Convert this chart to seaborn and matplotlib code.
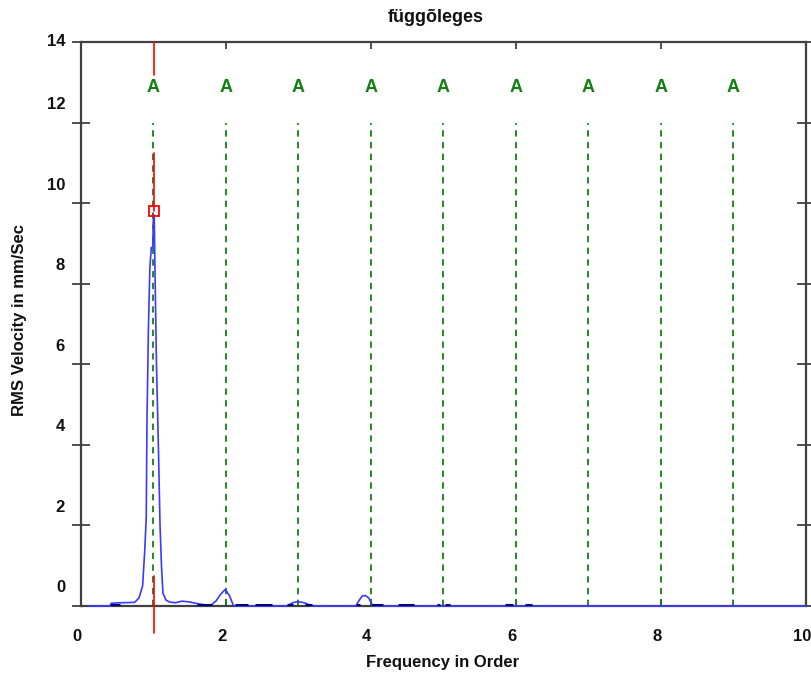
import matplotlib
matplotlib.use("Agg")
import matplotlib.pyplot as plt
import numpy as np
import pandas as pd
import seaborn as sns

# ===== DATA =====
TITLE = "függõleges"
X_LABEL = "Frequency in Order"
Y_LABEL = "RMS Velocity in mm/Sec"

# spectrum (order, rms velocity)
order = [0.11, 0.40, 0.42, 0.54, 0.74, 0.80, 0.85, 0.88, 0.90, 0.91, 0.93, 0.95,
         0.97, 0.99, 1.00, 1.01, 1.02, 1.04, 1.07, 1.09, 1.11, 1.13, 1.17, 1.22,
         1.30, 1.39, 1.50, 1.60, 1.70, 1.80, 1.86, 1.93, 1.99, 2.05, 2.10, 2.12,
         2.84, 2.92, 2.99, 3.08, 3.19, 3.79, 3.84, 3.88, 3.92, 3.97, 4.01, 4.05, 10.0]
velocity = [0.0, 0.0, 0.07, 0.08, 0.09, 0.2, 0.5, 1.4, 2.2, 4.6, 6.9, 8.4,
            8.9, 8.9, 9.7, 9.7, 8.4, 6.1, 3.75, 2.0, 1.0, 0.32, 0.15, 0.1,
            0.08, 0.12, 0.1, 0.06, 0.03, 0.03, 0.12, 0.3, 0.41, 0.25, 0.02, 0.0,
            0.0, 0.08, 0.11, 0.08, 0.0, 0.0, 0.15, 0.25, 0.26, 0.2, 0.05, 0.0, 0.0]

# dark floor segments drawn on the baseline
floor_start = [0.40, 1.60, 2.12, 2.40, 2.84, 3.09, 3.79, 4.01, 4.37, 4.91, 5.02, 5.85, 6.12]
floor_end = [0.54, 1.81, 2.30, 2.63, 2.92, 3.19, 3.85, 4.17, 4.60, 4.95, 5.09, 5.96, 6.22]

# harmonic markers
harmonics = [1, 2, 3, 4, 5, 6, 7, 8, 9]
harmonic_label = "A"
harmonic_label_y = 12.88
harmonic_line_top = 12.0

# cursor
cursor_x = 1.01
cursor_y = 9.8
cursor_segments = [(13.18, 14.0), (9.8, 11.24), (-0.67, 0.74)]

x_ticks = [0, 2, 4, 6, 8, 10]
y_ticks = [0, 2, 4, 6, 8, 10, 12, 14]

# ===== STYLE =====
sns.set_style("white")
plt.rcParams["font.family"] = ["Liberation Sans", "DejaVu Sans"]
plt.rcParams["font.weight"] = "bold"

SPINE = "#404040"
BLUE = "#3a3aff"
GREEN = "#138013"

fig = plt.figure(figsize=(8.12, 6.75), dpi=100)
ax = fig.add_axes([81 / 812, 1 - 606 / 675, 725 / 812, 564 / 675])

df = pd.DataFrame({"order": order, "velocity": velocity})

# harmonic guide lines + labels
ax.vlines(harmonics, 0, harmonic_line_top, colors=GREEN, linestyles=(0, (3.5, 3)),
          linewidth=1.3, zorder=2)
for h in harmonics:
    ax.text(h, harmonic_label_y, harmonic_label, color=GREEN, fontsize=13,
            fontweight="bold", ha="center", va="center")

# spectrum
sns.lineplot(data=df, x="order", y="velocity", color=BLUE, linewidth=1.2,
             ax=ax, zorder=4, clip_on=False)
ax.hlines([0.03] * len(floor_start), floor_start, floor_end, colors="#000080",
          linewidth=2.2, zorder=5)

# cursor
for y0, y1 in cursor_segments:
    ax.plot([cursor_x, cursor_x], [y0, y1], color="red", linewidth=1.2,
            zorder=6, clip_on=False)
ax.vlines(1.0, 8.95, 9.6, colors="orange", linestyles=(0, (2, 2)), linewidth=1.2, zorder=3)
ax.plot([cursor_x], [cursor_y], marker="s", markersize=7, mfc="none", mec="red",
        mew=1.3, zorder=7)

# axes
ax.set_xlim(0, 10)
ax.set_ylim(0, 14)
for s in ax.spines.values():
    s.set_color(SPINE)
    s.set_linewidth(1.6)
    s.set_visible(True)

ax.set_xticks(x_ticks)
ax.set_yticks(y_ticks)
ax.set_xticklabels([])
ax.set_yticklabels([])
ax.tick_params(axis="x", direction="in", length=5, width=1.3, color=SPINE,
               top=True, bottom=True)
ax.tick_params(axis="y", direction="inout", length=12.5, width=1.3, color=SPINE,
               left=True, right=True)

# tick labels (drawn as annotations to mimic the original offsets)
for v in x_ticks:
    ax.annotate(str(v), xy=(v, 0), xycoords=("data", "axes fraction"),
                xytext=(-3, -22), textcoords="offset points", ha="center",
                va="center", fontsize=12, fontweight="bold", color="#111111",
                annotation_clip=False)
for v in y_ticks:
    dy = 0 if v == y_ticks[-1] else 13
    ax.annotate(str(v), xy=(0, v), xycoords=("axes fraction", "data"),
                xytext=(-11.5, dy), textcoords="offset points", ha="right",
                va="center", fontsize=12, fontweight="bold", color="#111111",
                annotation_clip=False)

ax.set_xlabel("")
ax.set_ylabel("")
fig.text(443 / 812, 1 - 663 / 675, X_LABEL, ha="center", va="center",
         fontsize=12, fontweight="bold", color="#111111")
fig.text(20 / 812, 1 - 320 / 675, Y_LABEL, ha="center", va="center",
         rotation=90, fontsize=12, fontweight="bold", color="#111111")
fig.text(436 / 812, 1 - 18 / 675, TITLE, ha="center", va="center",
         fontsize=13, fontweight="bold", color="#111111")

fig.savefig("out.png", dpi=100)
